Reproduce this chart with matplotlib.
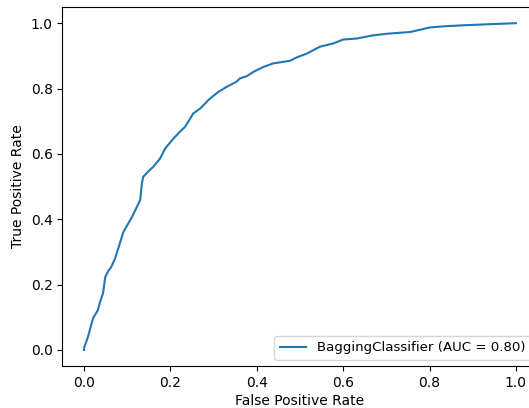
import numpy as np
import matplotlib
matplotlib.use("Agg")
import matplotlib.pyplot as plt

# ROC curve
fpr = [0.0, 0.0, 0.009, 0.021, 0.032, 0.037, 0.044, 0.049, 0.056, 0.063, 0.072,
       0.083, 0.091, 0.111, 0.122, 0.130, 0.134, 0.137, 0.145, 0.153, 0.160,
       0.176, 0.188, 0.207, 0.222, 0.234, 0.253, 0.269, 0.288, 0.311, 0.330,
       0.353, 0.361, 0.377, 0.392, 0.415, 0.438, 0.477, 0.492, 0.516, 0.546,
       0.577, 0.600, 0.631, 0.670, 0.704, 0.755, 0.801, 0.840, 0.886, 0.940, 1.0]
tpr = [0.0, 0.006, 0.040, 0.098, 0.122, 0.147, 0.174, 0.223, 0.242, 0.254, 0.281,
       0.327, 0.361, 0.407, 0.437, 0.459, 0.511, 0.530, 0.541, 0.552, 0.560,
       0.586, 0.617, 0.647, 0.668, 0.683, 0.724, 0.739, 0.765, 0.790, 0.805,
       0.821, 0.831, 0.838, 0.851, 0.866, 0.877, 0.885, 0.895, 0.907, 0.928,
       0.938, 0.950, 0.953, 0.963, 0.968, 0.973, 0.987, 0.991, 0.994, 0.997, 1.0]
label = "BaggingClassifier (AUC = 0.80)"

fig = plt.figure(figsize=(5.29, 4.08), dpi=100)
ax = fig.add_axes([0.1181, 0.1022, 0.898, 0.881])

ax.plot(fpr, tpr, label=label)
ax.set_xlim(-0.05, 1.05)
ax.set_ylim(-0.05, 1.05)
ax.set_xlabel("False Positive Rate", labelpad=3)
ax.set_ylabel("True Positive Rate")
ax.legend(loc="lower right", fontsize=9.6)

fig.savefig("out.png", dpi=100)
